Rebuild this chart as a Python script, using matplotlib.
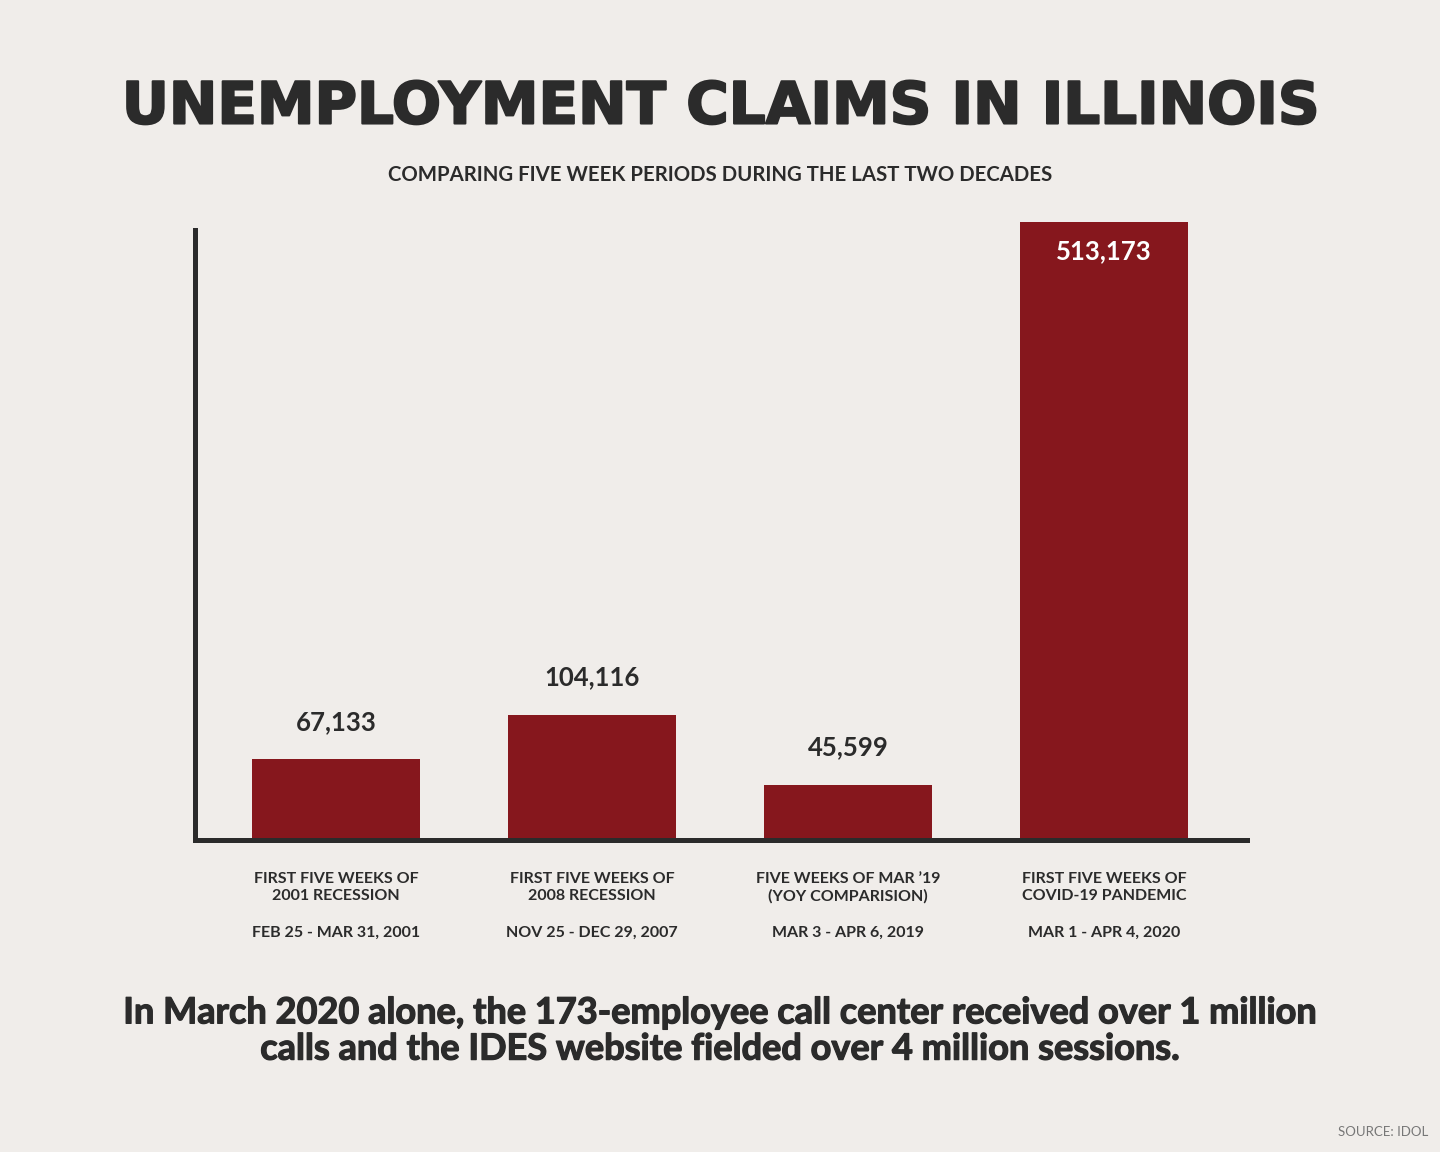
import matplotlib
matplotlib.use("Agg")
import matplotlib.pyplot as plt
import matplotlib.patheffects as pe

# ---- data ----
categories = [
    "FIRST FIVE WEEKS OF\n2001 RECESSION",
    "FIRST FIVE WEEKS OF\n2008 RECESSION",
    "FIVE WEEKS OF MAR \u201919\n(YOY COMPARISION)",
    "FIRST FIVE WEEKS OF\nCOVID-19 PANDEMIC",
]
date_ranges = [
    "FEB 25 - MAR 31, 2001",
    "NOV 25 - DEC 29, 2007",
    "MAR 3 - APR 6, 2019",
    "MAR 1 - APR 4, 2020",
]
claims = [67133, 104116, 45599, 513173]
value_labels = ["67,133", "104,116", "45,599", "513,173"]

title = "UNEMPLOYMENT CLAIMS IN ILLINOIS"
subtitle = "COMPARING FIVE WEEK PERIODS DURING THE LAST TWO DECADES"
footnote = ("In March 2020 alone, the 173-employee call center received over 1 million\n"
            "calls and the IDES website fielded over 4 million sessions.")
source = "SOURCE: IDOL"

# ---- style ----
BG = "#f0edea"
BAR = "#86171d"
INK = "#2b2b2b"
plt.rcParams['font.family'] = ['Lato', 'DejaVu Sans']

fig = plt.figure(figsize=(14.4, 11.52), dpi=100, facecolor=BG)
ax = fig.add_axes([0.1354, 0.2708, 0.7306, 0.5295])
ax.set_facecolor(BG)

x = list(range(len(claims)))
bars = ax.bar(x, claims, width=0.656, color=BAR, clip_on=False, zorder=1)
ax.set_xlim(-0.551, 3.559)
ax.set_ylim(0, 506500)

for s in ["top", "right"]:
    ax.spines[s].set_visible(False)
for s in ["left", "bottom"]:
    ax.spines[s].set_linewidth(3.6)
    ax.spines[s].set_color(INK)
    ax.spines[s].set_zorder(3)
ax.set_yticks([])
ax.set_xticks([])

for i, (v, lab) in enumerate(zip(claims, value_labels)):
    if i == len(claims) - 1:
        ax.annotate(lab, (i, v), xytext=(0, -21), textcoords="offset points",
                    ha="center", va="center", color="white", fontsize=18.5,
                    fontweight="bold", annotation_clip=False)
    else:
        ax.annotate(lab, (i, v), xytext=(0, 27), textcoords="offset points",
                    ha="center", va="center", color=INK, fontsize=18.5,
                    fontweight="bold", annotation_clip=False)

for i, (c, d) in enumerate(zip(categories, date_ranges)):
    ax.annotate(c, (i, 0), xytext=(0, -23), textcoords="offset points",
                ha="center", va="top", color=INK, fontsize=11.5,
                fontweight="bold", linespacing=1.3, annotation_clip=False)
    ax.annotate(d, (i, 0), xytext=(0, -66.5), textcoords="offset points",
                ha="center", va="center", color=INK, fontsize=11.5,
                fontweight="bold", annotation_clip=False)

fig.text(0.5, 1 - 107 / 1152, title, ha="center", va="center", color=INK,
         fontsize=41.7, fontweight="bold", family="DejaVu Sans",
         path_effects=[pe.withStroke(linewidth=1.5, foreground=INK)])
fig.text(0.5, 1 - 175 / 1152, subtitle, ha="center", va="center", color=INK,
         fontsize=14.7, fontweight="bold")
fig.text(0.5, 1 - 1031 / 1152, footnote, ha="center", va="center", color=INK,
         fontsize=26, fontweight="bold", linespacing=1.12,
         path_effects=[pe.withStroke(linewidth=0.9, foreground=INK)])
fig.text(1 - 12 / 1440, 1 - 1132 / 1152, source, ha="right", va="center",
         color="#777777", fontsize=9.5)

fig.savefig("out.png", dpi=100, facecolor=BG)
